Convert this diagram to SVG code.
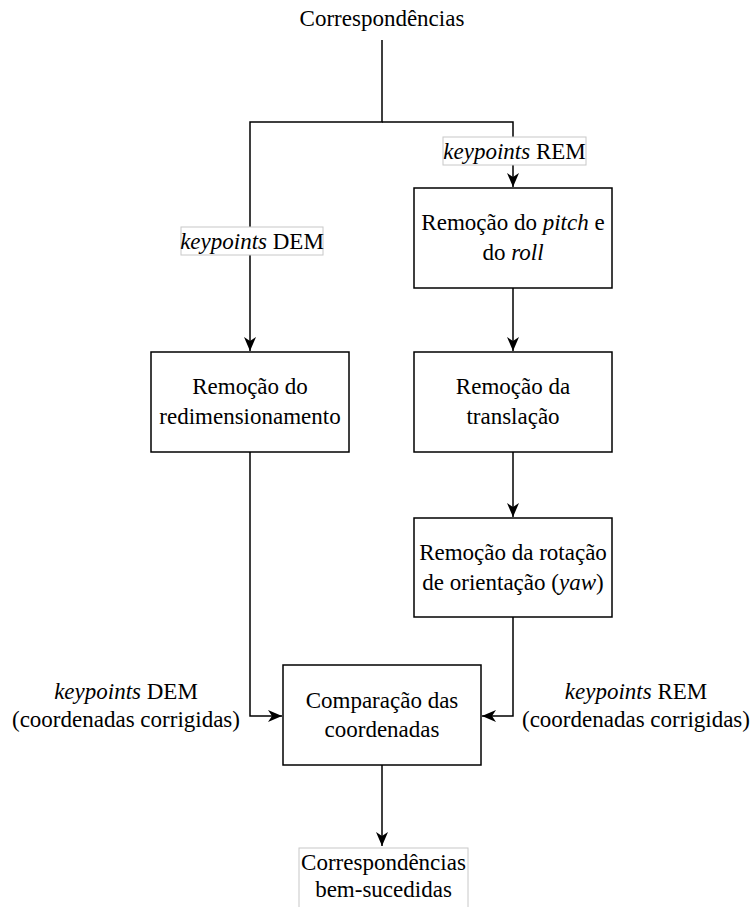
<svg xmlns="http://www.w3.org/2000/svg" width="751" height="907" viewBox="0 0 751 907" font-family="'Liberation Serif', 'DejaVu Serif', serif">
  <style>
    text { font-family: "Liberation Serif", "DejaVu Serif", serif; font-size: 23px; fill: #000; text-anchor: middle; }
    .it { font-style: italic; }
    .box { fill: #fff; stroke: #000; stroke-width: 1.5; }
    .lbl { fill: #fff; stroke: #c8c8c8; stroke-width: 1; }
    .edge { fill: none; stroke: #000; stroke-width: 1.5; }
  </style>
  <defs>
    <marker id="arrow" markerUnits="userSpaceOnUse" markerWidth="16" markerHeight="14" refX="14" refY="7" orient="auto">
      <path d="M0,1 L14,7 L0,13 L4,7 Z" fill="#000"/>
    </marker>
  </defs>

  <!-- connectors -->
  <g id="connectors">
    <path class="edge" d="M382,40 V122 H250 V351" marker-end="url(#arrow)"/>
    <path class="edge" d="M382,122 H513 V187" marker-end="url(#arrow)"/>
    <path class="edge" d="M513,288 V351" marker-end="url(#arrow)"/>
    <path class="edge" d="M513,452 V517" marker-end="url(#arrow)"/>
    <path class="edge" d="M250,452 V716 H282" marker-end="url(#arrow)"/>
    <path class="edge" d="M513,617 V716 H482" marker-end="url(#arrow)"/>
    <path class="edge" d="M382,765 V846" marker-end="url(#arrow)"/>
  </g>

  <!-- source -->
  <g id="source">
    <text x="382" y="26">Correspondências</text>
  </g>

  <!-- edge labels -->
  <g id="label-rem">
    <rect class="lbl" x="443" y="137" width="143" height="28"/>
    <text x="514.5" y="159"><tspan class="it">keypoints</tspan> REM</text>
  </g>
  <g id="label-dem">
    <rect class="lbl" x="181" y="227" width="142" height="28"/>
    <text x="252" y="249"><tspan class="it">keypoints</tspan> DEM</text>
  </g>

  <!-- process nodes -->
  <g id="pitch-roll">
    <rect class="box" x="414" y="188" width="198" height="100"/>
    <text x="513" y="230">Remoção do <tspan class="it">pitch</tspan> e</text>
    <text x="513" y="260">do <tspan class="it">roll</tspan></text>
  </g>
  <g id="redimensionamento">
    <rect class="box" x="151" y="352" width="198" height="100"/>
    <text x="250" y="394">Remoção do</text>
    <text x="250" y="424">redimensionamento</text>
  </g>
  <g id="translacao">
    <rect class="box" x="414" y="352" width="198" height="100"/>
    <text x="513" y="394">Remoção da</text>
    <text x="513" y="424">translação</text>
  </g>
  <g id="rotacao">
    <rect class="box" x="414" y="518" width="198" height="99"/>
    <text x="513" y="560">Remoção da rotação</text>
    <text x="513" y="590">de orientação (<tspan class="it">yaw</tspan>)</text>
  </g>
  <g id="comparacao">
    <rect class="box" x="283" y="665" width="198" height="100"/>
    <text x="382" y="708">Comparação das</text>
    <text x="382" y="737">coordenadas</text>
  </g>

  <!-- side labels -->
  <g id="label-dem-corr">
    <text x="126" y="699"><tspan class="it">keypoints</tspan> DEM</text>
    <text x="126" y="727">(coordenadas corrigidas)</text>
  </g>
  <g id="label-rem-corr">
    <text x="636" y="699"><tspan class="it">keypoints</tspan> REM</text>
    <text x="636" y="727">(coordenadas corrigidas)</text>
  </g>

  <!-- result -->
  <g id="result">
    <rect class="lbl" x="299" y="848" width="169" height="62"/>
    <text x="383.5" y="870">Correspondências</text>
    <text x="383.5" y="897">bem-sucedidas</text>
  </g>
</svg>
